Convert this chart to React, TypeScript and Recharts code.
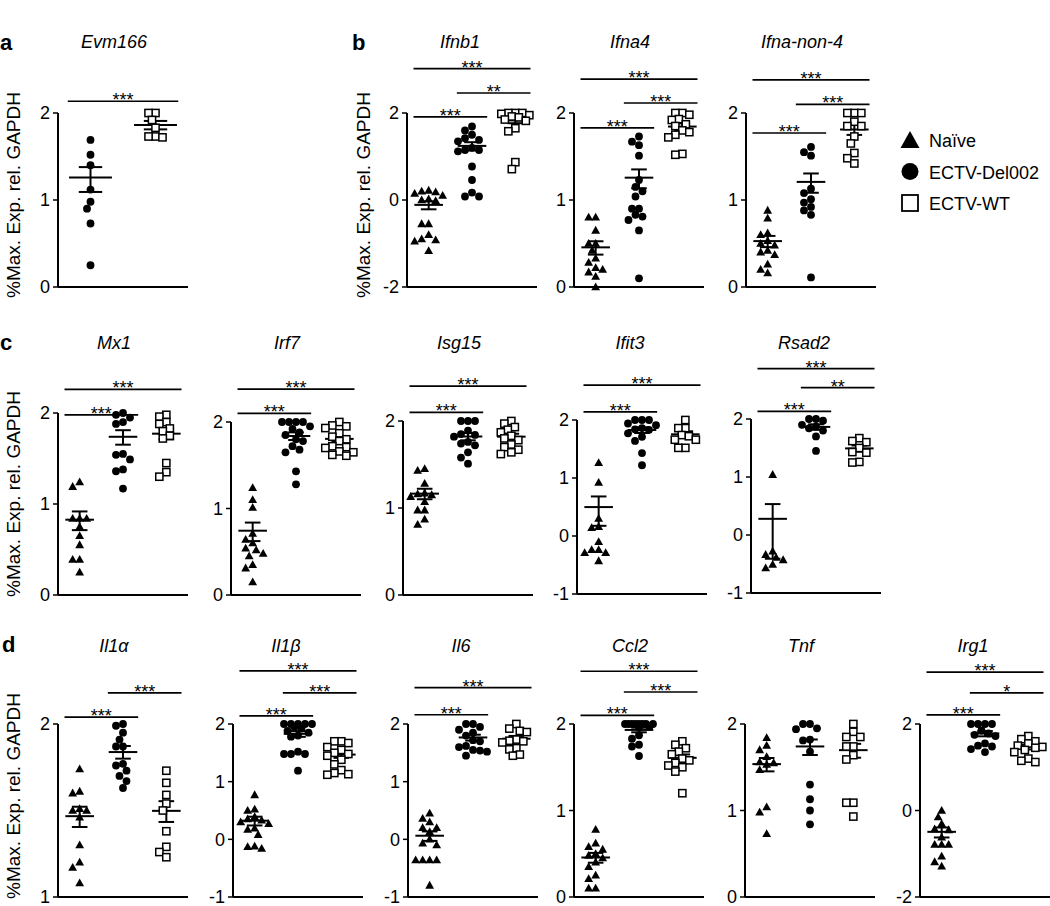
import React from "react";
import { ScatterChart, Scatter, XAxis, YAxis, ReferenceLine } from "recharts";

const FONT = '"Liberation Sans", Arial, Helvetica, sans-serif';

// All values in axis units (log10 of % max expression).
// Group order inside each panel: Naïve, ECTV-Del002, ECTV-WT.

// a - Evm166 (infected groups only)
const evm166Del002 = [1.69, 1.52, 1.4, 1.12, 0.98, 0.9, 0.73, 0.25];
const evm166Wt = [2.0, 2.0, 1.92, 1.83, 1.73, 1.72, 1.73];

// b - type I IFN
const ifnb1Naive = [0.22, 0.2, 0.18, 0.15, 0.1, 0.02, 0.0, -0.02, -0.55, -0.55, -0.8, -0.9, -0.92, -0.95, -1.17];
const ifnb1Del002 = [1.69, 1.6, 1.5, 1.42, 1.38, 1.35, 1.2, 1.15, 1.15, 1.12, 0.77, 0.46, 0.17, 0.08, 0.08];
const ifnb1Wt = [2.0, 2.0, 2.0, 1.98, 1.95, 1.92, 1.9, 1.85, 1.82, 1.65, 1.58, 0.87, 0.71];

const ifna4Naive = [0.8, 0.8, 0.65, 0.5, 0.5, 0.42, 0.33, 0.28, 0.22, 0.2, 0.17, 0.12, 0.0];
const ifna4Del002 = [1.73, 1.67, 1.63, 1.51, 1.23, 1.15, 1.1, 1.04, 0.9, 0.9, 0.83, 0.81, 0.77, 0.65, 0.1];
const ifna4Wt = [2.0, 2.0, 1.98, 1.93, 1.92, 1.87, 1.85, 1.8, 1.78, 1.75, 1.72, 1.53, 1.52];

const ifnaNon4Naive = [0.88, 0.79, 0.62, 0.6, 0.53, 0.5, 0.48, 0.42, 0.4, 0.37, 0.26, 0.2, 0.16];
const ifnaNon4Del002 = [1.61, 1.55, 1.51, 1.13, 1.08, 1.01, 0.97, 0.92, 0.88, 0.83, 0.11];
const ifnaNon4Wt = [2.0, 2.0, 2.0, 1.9, 1.85, 1.85, 1.73, 1.65, 1.54, 1.48, 1.42];

// c - ISGs
const mx1Naive = [1.24, 1.19, 0.84, 0.84, 0.84, 0.75, 0.65, 0.55, 0.39, 0.39, 0.25];
const mx1Del002 = [2.0, 1.98, 1.95, 1.9, 1.88, 1.55, 1.54, 1.49, 1.38, 1.36, 1.17];
const mx1Wt = [1.98, 1.96, 1.9, 1.88, 1.83, 1.8, 1.75, 1.72, 1.45, 1.35, 1.3];

const irf7Naive = [1.24, 1.1, 1.01, 0.71, 0.64, 0.6, 0.54, 0.52, 0.48, 0.45, 0.35, 0.31, 0.15];
const irf7Del002 = [2.0, 2.0, 2.0, 2.0, 1.95, 1.92, 1.88, 1.85, 1.8, 1.78, 1.72, 1.68, 1.65, 1.43, 1.28];
const irf7Wt = [2.0, 1.96, 1.95, 1.93, 1.87, 1.83, 1.8, 1.78, 1.72, 1.71, 1.7, 1.66, 1.65, 1.62, 1.61];

const isg15Naive = [1.45, 1.43, 1.28, 1.17, 1.16, 1.15, 1.13, 1.07, 0.975, 0.975, 0.87, 0.81];
const isg15Del002 = [2.0, 2.0, 2.0, 1.89, 1.85, 1.84, 1.82, 1.76, 1.74, 1.72, 1.64, 1.58, 1.51];
const isg15Wt = [2.0, 1.97, 1.93, 1.9, 1.87, 1.83, 1.8, 1.78, 1.73, 1.7, 1.67, 1.64, 1.62];

const ifit3Naive = [1.26, 0.92, 0.3, 0.16, 0.14, -0.1, -0.24, -0.24, -0.29, -0.29, -0.43];
const ifit3Del002 = [2.0, 2.0, 2.0, 1.94, 1.91, 1.86, 1.84, 1.83, 1.77, 1.71, 1.64, 1.43, 1.22];
const ifit3Wt = [2.0, 1.86, 1.86, 1.74, 1.72, 1.66, 1.66, 1.52, 1.52];

const rsad2Naive = [1.04, -0.28, -0.34, -0.39, -0.43, -0.51, -0.57];
const rsad2Del002 = [2.0, 2.0, 1.97, 1.9, 1.87, 1.84, 1.8, 1.7, 1.45];
const rsad2Wt = [1.67, 1.62, 1.6, 1.5, 1.43, 1.42, 1.26, 1.25];

// d - cytokines
const il1aNaive = [1.74, 1.61, 1.6, 1.51, 1.5, 1.5, 1.46, 1.3, 1.2, 1.17, 1.08];
const il1aDel002 = [2.0, 1.99, 1.95, 1.91, 1.87, 1.87, 1.77, 1.76, 1.73, 1.7, 1.67, 1.63];
const il1aWt = [1.73, 1.66, 1.59, 1.54, 1.5, 1.38, 1.29, 1.26, 1.23];

const il1bNaive = [0.77, 0.52, 0.5, 0.39, 0.35, 0.33, 0.3, 0.27, 0.19, 0.17, 0.08, -0.12, -0.13, -0.16];
const il1bDel002 = [2.0, 2.0, 2.0, 2.0, 2.0, 1.95, 1.92, 1.88, 1.85, 1.8, 1.78, 1.52, 1.48, 1.48, 1.48, 1.19];
const il1bWt = [1.7, 1.7, 1.67, 1.6, 1.55, 1.5, 1.48, 1.45, 1.38, 1.3, 1.2, 1.15, 1.13, 1.12];

const il6Naive = [0.45, 0.36, 0.3, 0.2, 0.2, 0.13, 0.0, -0.07, -0.1, -0.36, -0.36, -0.36, -0.36, -0.8];
const il6Del002 = [2.0, 2.0, 1.95, 1.9, 1.85, 1.8, 1.72, 1.7, 1.62, 1.6, 1.55, 1.54, 1.52, 1.45];
const il6Wt = [2.0, 1.92, 1.88, 1.86, 1.73, 1.71, 1.7, 1.68, 1.58, 1.56, 1.47, 1.45];

const ccl2Naive = [0.78, 0.62, 0.58, 0.55, 0.5, 0.48, 0.45, 0.4, 0.35, 0.25, 0.21, 0.1, 0.1];
const ccl2Del002 = [2.0, 2.0, 2.0, 2.0, 2.0, 2.0, 2.0, 2.0, 1.97, 1.96, 1.87, 1.83, 1.76, 1.74, 1.63];
const ccl2Wt = [1.8, 1.76, 1.72, 1.68, 1.65, 1.6, 1.58, 1.55, 1.52, 1.5, 1.45, 1.2];

const tnfNaive = [1.84, 1.75, 1.7, 1.62, 1.56, 1.55, 1.53, 1.47, 1.04, 0.98, 0.73];
const tnfDel002 = [2.0, 2.0, 1.95, 1.94, 1.82, 1.81, 1.68, 1.3, 1.13, 1.0, 0.84];
const tnfWt = [2.0, 1.91, 1.85, 1.85, 1.74, 1.74, 1.64, 1.59, 1.09, 1.09, 0.93];

const irg1Naive = [0.0, -0.15, -0.31, -0.43, -0.45, -0.62, -0.79, -0.79, -0.79, -1.06, -1.19, -1.29];
const irg1Del002 = [2.0, 2.0, 2.0, 2.0, 1.85, 1.78, 1.75, 1.72, 1.55, 1.5, 1.48, 1.42, 1.35];
const irg1Wt = [1.72, 1.65, 1.6, 1.55, 1.5, 1.47, 1.45, 1.4, 1.35, 1.2, 1.15, 1.12];

// y tick labels
const ticks0to2 = [0, 1, 2];
const ticks1to2 = [1, 2];
const ticksM1to2 = [-1, 0, 1, 2];
const ticksM2to2 = [-2, 0, 2];

// significance brackets: group numbers (1-based within panel), level in axis units
type Sig = { from: number; to: number; y: number; stars: string };
const evm166Sig: Sig[] = [{ from: 1, to: 2, y: 2.135, stars: "***" }];
const ifnb1Sig: Sig[] = [
  { from: 1, to: 3, y: 3.02, stars: "***" },
  { from: 2, to: 3, y: 2.46, stars: "**" },
  { from: 1, to: 2, y: 1.91, stars: "***" },
];
const ifna4Sig: Sig[] = [
  { from: 1, to: 3, y: 2.39, stars: "***" },
  { from: 2, to: 3, y: 2.115, stars: "***" },
  { from: 1, to: 2, y: 1.83, stars: "***" },
];
const ifnaNon4Sig: Sig[] = [
  { from: 1, to: 3, y: 2.38, stars: "***" },
  { from: 2, to: 3, y: 2.1, stars: "***" },
  { from: 1, to: 2, y: 1.77, stars: "***" },
];
const mx1Sig: Sig[] = [
  { from: 1, to: 3, y: 2.26, stars: "***" },
  { from: 1, to: 2, y: 1.98, stars: "***" },
];
const irf7Sig: Sig[] = [
  { from: 1, to: 3, y: 2.38, stars: "***" },
  { from: 1, to: 2, y: 2.1, stars: "***" },
];
const isg15Sig: Sig[] = [
  { from: 1, to: 3, y: 2.4, stars: "***" },
  { from: 1, to: 2, y: 2.1, stars: "***" },
];
const ifit3Sig: Sig[] = [
  { from: 1, to: 3, y: 2.6, stars: "***" },
  { from: 1, to: 2, y: 2.14, stars: "***" },
];
const rsad2Sig: Sig[] = [
  { from: 1, to: 3, y: 2.87, stars: "***" },
  { from: 2, to: 3, y: 2.54, stars: "**" },
  { from: 1, to: 2, y: 2.13, stars: "***" },
];
const il1aSig: Sig[] = [
  { from: 2, to: 3, y: 2.18, stars: "***" },
  { from: 1, to: 2, y: 2.04, stars: "***" },
];
const il1bSig: Sig[] = [
  { from: 1, to: 3, y: 2.92, stars: "***" },
  { from: 2, to: 3, y: 2.54, stars: "***" },
  { from: 1, to: 2, y: 2.14, stars: "***" },
];
const il6Sig: Sig[] = [
  { from: 1, to: 3, y: 2.63, stars: "***" },
  { from: 1, to: 2, y: 2.16, stars: "***" },
];
const ccl2Sig: Sig[] = [
  { from: 1, to: 3, y: 2.61, stars: "***" },
  { from: 2, to: 3, y: 2.37, stars: "***" },
  { from: 1, to: 2, y: 2.1, stars: "***" },
];
const tnfSig: Sig[] = [];
const irg1Sig: Sig[] = [
  { from: 1, to: 3, y: 3.2, stars: "***" },
  { from: 2, to: 3, y: 2.72, stars: "*" },
  { from: 1, to: 2, y: 2.21, stars: "***" },
];

type Kind = "naive" | "del002" | "wt";
type Group = { kind: Kind; values: number[] };
type PanelDef = {
  title: string;
  groups: Group[];
  domain: [number, number];
  ticks: number[];
  sig: Sig[];
};

const three = (a: number[], b: number[], c: number[]): Group[] => [
  { kind: "naive", values: a },
  { kind: "del002", values: b },
  { kind: "wt", values: c },
];

const panels: PanelDef[] = [
  {
    title: "Evm166",
    groups: [
      { kind: "del002", values: evm166Del002 },
      { kind: "wt", values: evm166Wt },
    ],
    domain: [0, 2],
    ticks: ticks0to2,
    sig: evm166Sig,
  },
  { title: "Ifnb1", groups: three(ifnb1Naive, ifnb1Del002, ifnb1Wt), domain: [-2, 2], ticks: ticksM2to2, sig: ifnb1Sig },
  { title: "Ifna4", groups: three(ifna4Naive, ifna4Del002, ifna4Wt), domain: [0, 2], ticks: ticks0to2, sig: ifna4Sig },
  { title: "Ifna-non-4", groups: three(ifnaNon4Naive, ifnaNon4Del002, ifnaNon4Wt), domain: [0, 2], ticks: ticks0to2, sig: ifnaNon4Sig },
  { title: "Mx1", groups: three(mx1Naive, mx1Del002, mx1Wt), domain: [0, 2], ticks: ticks0to2, sig: mx1Sig },
  { title: "Irf7", groups: three(irf7Naive, irf7Del002, irf7Wt), domain: [0, 2], ticks: ticks0to2, sig: irf7Sig },
  { title: "Isg15", groups: three(isg15Naive, isg15Del002, isg15Wt), domain: [0, 2], ticks: ticks0to2, sig: isg15Sig },
  { title: "Ifit3", groups: three(ifit3Naive, ifit3Del002, ifit3Wt), domain: [-1, 2], ticks: ticksM1to2, sig: ifit3Sig },
  { title: "Rsad2", groups: three(rsad2Naive, rsad2Del002, rsad2Wt), domain: [-1, 2], ticks: ticksM1to2, sig: rsad2Sig },
  { title: "Il1α", groups: three(il1aNaive, il1aDel002, il1aWt), domain: [1, 2], ticks: ticks1to2, sig: il1aSig },
  { title: "Il1β", groups: three(il1bNaive, il1bDel002, il1bWt), domain: [-1, 2], ticks: ticksM1to2, sig: il1bSig },
  { title: "Il6", groups: three(il6Naive, il6Del002, il6Wt), domain: [-1, 2], ticks: ticksM1to2, sig: il6Sig },
  { title: "Ccl2", groups: three(ccl2Naive, ccl2Del002, ccl2Wt), domain: [0, 2], ticks: ticks0to2, sig: ccl2Sig },
  { title: "Tnf", groups: three(tnfNaive, tnfDel002, tnfWt), domain: [0, 2], ticks: ticks0to2, sig: tnfSig },
  { title: "Irg1", groups: three(irg1Naive, irg1Del002, irg1Wt), domain: [-2, 2], ticks: ticksM2to2, sig: irg1Sig },
];

// where each panel's plot area sits on the page (px)
const placement: Record<string, { axisX: number; top: number; bottom: number; titleY: number }> = {
  Evm166: { axisX: 58, top: 113, bottom: 287, titleY: 48 },
  Ifnb1: { axisX: 407, top: 113, bottom: 287, titleY: 48 },
  Ifna4: { axisX: 574, top: 113, bottom: 287, titleY: 48 },
  "Ifna-non-4": { axisX: 746, top: 113, bottom: 287, titleY: 48 },
  Mx1: { axisX: 58, top: 413, bottom: 595, titleY: 349 },
  Irf7: { axisX: 231, top: 422, bottom: 595, titleY: 349 },
  Isg15: { axisX: 403, top: 421, bottom: 595, titleY: 349 },
  Ifit3: { axisX: 577, top: 420, bottom: 594, titleY: 349 },
  Rsad2: { axisX: 751, top: 419, bottom: 593, titleY: 349 },
  "Il1α": { axisX: 58, top: 724, bottom: 897, titleY: 652 },
  "Il1β": { axisX: 233, top: 724, bottom: 897, titleY: 652 },
  Il6: { axisX: 408, top: 724, bottom: 897, titleY: 652 },
  Ccl2: { axisX: 574, top: 724, bottom: 897, titleY: 652 },
  Tnf: { axisX: 745, top: 724, bottom: 897, titleY: 652 },
  Irg1: { axisX: 920, top: 724, bottom: 897, titleY: 652 },
};

const PLOT_W = 130;
const AXIS_W = 40;
const TOP_PAD = 72;
const RIGHT_PAD = 4;
const X_AXIS_H = 10;

// mean +/- SEM is taken on the linear scale, then drawn on the log axis
function meanSem(values: number[], floor: number) {
  const lin = values.map((v) => Math.pow(10, v));
  const n = lin.length;
  const m = lin.reduce((a, b) => a + b, 0) / n;
  const sd = Math.sqrt(lin.reduce((a, b) => a + (b - m) * (b - m), 0) / (n - 1));
  const sem = sd / Math.sqrt(n);
  const lo = m - sem > 0 ? Math.log10(m - sem) : floor;
  return { mean: Math.log10(m), hi: Math.log10(m + sem), lo: Math.max(lo, floor) };
}

// small beeswarm: dots that would sit on top of each other are nudged sideways
function swarm(values: number[], center: number, pxX: number, pxY: number) {
  const placed: { px: number; py: number; x: number; y: number }[] = [];
  const order = values.map((_, i) => i).sort((a, b) => values[b] - values[a]);
  const minDist = 7;
  const step = 3.5;
  const maxOff = 15;
  for (const i of order) {
    const py = values[i] * pxY;
    let best = 0;
    let bestGap = -1;
    for (let k = 0; ; k++) {
      const off = k === 0 ? 0 : (k % 2 ? -1 : 1) * Math.ceil(k / 2) * step;
      if (Math.abs(off) > maxOff) break;
      const gap = placed.reduce((g, p) => Math.min(g, Math.hypot(p.px - off, p.py - py)), Infinity);
      if (gap >= minDist) {
        best = off;
        break;
      }
      if (gap > bestGap) {
        bestGap = gap;
        best = off;
      }
    }
    placed.push({ px: best, py, x: center + best / pxX, y: values[i] });
  }
  return placed.map((p) => ({ x: p.x, y: p.y }));
}

function Marker({ kind, cx, cy }: { kind: Kind; cx: number; cy: number }) {
  if (kind === "naive") {
    return <polygon points={`${cx},${cy - 4.6} ${cx + 4.4},${cy + 3.2} ${cx - 4.4},${cy + 3.2}`} fill="#000" />;
  }
  if (kind === "del002") return <circle cx={cx} cy={cy} r={3.9} fill="#000" />;
  return <rect x={cx - 3.6} y={cy - 3.6} width={7.2} height={7.2} fill="#fff" stroke="#000" strokeWidth={1.5} />;
}

function Panel({ def }: { def: PanelDef }) {
  const pos = placement[def.title];
  const n = def.groups.length;
  const plotH = pos.bottom - pos.top;
  const [yMin, yMax] = def.domain;
  const pxX = PLOT_W / n;
  const pxY = plotH / (yMax - yMin);
  const centers = def.groups.map((_, i) => i + 0.5);
  const line = { stroke: "#000", strokeWidth: 2 };

  return (
    <div style={{ position: "absolute", left: pos.axisX - AXIS_W, top: pos.top - TOP_PAD }}>
      <ScatterChart
        width={AXIS_W + PLOT_W + RIGHT_PAD}
        height={TOP_PAD + plotH + X_AXIS_H}
        margin={{ top: TOP_PAD, right: RIGHT_PAD, bottom: 0, left: 0 }}
      >
        <XAxis
          type="number"
          dataKey="x"
          domain={[0, n]}
          ticks={centers}
          tick={false}
          tickSize={6}
          height={X_AXIS_H}
          axisLine={line}
          tickLine={{ stroke: "#000", strokeWidth: 1.5 }}
        />
        <YAxis
          type="number"
          dataKey="y"
          domain={def.domain}
          ticks={def.ticks}
          interval={0}
          width={AXIS_W}
          tickSize={5}
          tickMargin={3}
          tick={{ fontSize: 18, fill: "#000" }}
          axisLine={line}
          tickLine={{ stroke: "#000", strokeWidth: 1.5 }}
        />
        {def.groups.map((g, i) => (
          <Scatter
            key={g.kind}
            data={swarm(g.values, centers[i], pxX, pxY)}
            isAnimationActive={false}
            shape={(p: any) => <Marker kind={g.kind} cx={p.cx} cy={p.cy} />}
          />
        ))}
        {def.groups.map((g, i) => {
          const s = meanSem(g.values, yMin);
          const c = centers[i];
          return [
            <ReferenceLine key={`m${i}`} ifOverflow="visible" stroke="#000" strokeWidth={2}
              segment={[{ x: c - 0.33, y: s.mean }, { x: c + 0.33, y: s.mean }]} />,
            <ReferenceLine key={`v${i}`} ifOverflow="visible" stroke="#000" strokeWidth={2}
              segment={[{ x: c, y: s.lo }, { x: c, y: s.hi }]} />,
            <ReferenceLine key={`h${i}`} ifOverflow="visible" stroke="#000" strokeWidth={2}
              segment={[{ x: c - 0.18, y: s.hi }, { x: c + 0.18, y: s.hi }]} />,
            s.lo > yMin ? (
              <ReferenceLine key={`l${i}`} ifOverflow="visible" stroke="#000" strokeWidth={2}
                segment={[{ x: c - 0.18, y: s.lo }, { x: c + 0.18, y: s.lo }]} />
            ) : null,
          ];
        })}
        {def.sig.map((s, i) => (
          <ReferenceLine
            key={`s${i}`}
            ifOverflow="visible"
            stroke="#000"
            strokeWidth={1.7}
            segment={[{ x: s.from - 0.5 - 0.35, y: s.y }, { x: s.to - 0.5 + 0.35, y: s.y }]}
            label={{ value: s.stars, position: "top", offset: -5, fontSize: 18, fill: "#000" }}
          />
        ))}
      </ScatterChart>
    </div>
  );
}

const yLabel = "%Max. Exp. rel. GAPDH";
const yLabelSpots = [
  { x: 20, y: 195 },
  { x: 370, y: 195 },
  { x: 20, y: 494 },
  { x: 20, y: 796 },
];
const letters = [
  { t: "a", x: 0, y: 50 },
  { t: "b", x: 352, y: 50 },
  { t: "c", x: 0, y: 350 },
  { t: "d", x: 2, y: 652 },
];
const legendItems: { kind: Kind; label: string }[] = [
  { kind: "naive", label: "Naïve" },
  { kind: "del002", label: "ECTV-Del002" },
  { kind: "wt", label: "ECTV-WT" },
];

export default function App() {
  return (
    <div
      style={{
        position: "absolute",
        left: 0,
        top: 0,
        width: 1050,
        height: 906,
        overflow: "hidden",
        background: "#fff",
        fontFamily: FONT,
      }}
    >
      {panels.map((p) => (
        <Panel key={p.title} def={p} />
      ))}
      <svg width={1050} height={906} style={{ position: "absolute", left: 0, top: 0, pointerEvents: "none" }}>
        {panels.map((p) => {
          const pos = placement[p.title];
          const labelW = p.domain[0] < 0 ? 16 : 10;
          return (
            <text key={p.title} x={pos.axisX + PLOT_W / 2 - (labelW + 8) / 2} y={pos.titleY}
              textAnchor="middle" fontSize={18} fontStyle="italic" fill="#000">
              {p.title}
            </text>
          );
        })}
        {yLabelSpots.map((s, i) => (
          <text key={i} transform={`translate(${s.x},${s.y}) rotate(-90)`} textAnchor="middle" fontSize={19} fill="#000">
            {yLabel}
          </text>
        ))}
        {letters.map((l) => (
          <text key={l.t} x={l.x} y={l.y} fontSize={22} fontWeight="bold" fill="#000">
            {l.t}
          </text>
        ))}
        {legendItems.map((item, i) => {
          const cy = 140 + i * 31.5;
          const cx = 910;
          return (
            <g key={item.kind}>
              {item.kind === "naive" && (
                <polygon points={`${cx},${cy - 9} ${cx + 9.5},${cy + 8} ${cx - 9.5},${cy + 8}`} fill="#000" />
              )}
              {item.kind === "del002" && <circle cx={cx} cy={cy} r={8.5} fill="#000" />}
              {item.kind === "wt" && (
                <rect x={cx - 8} y={cy - 8} width={16} height={16} fill="#fff" stroke="#000" strokeWidth={1.8} />
              )}
              <text x={929} y={cy + 7} fontSize={18} fill="#000">
                {item.label}
              </text>
            </g>
          );
        })}
      </svg>
    </div>
  );
}
